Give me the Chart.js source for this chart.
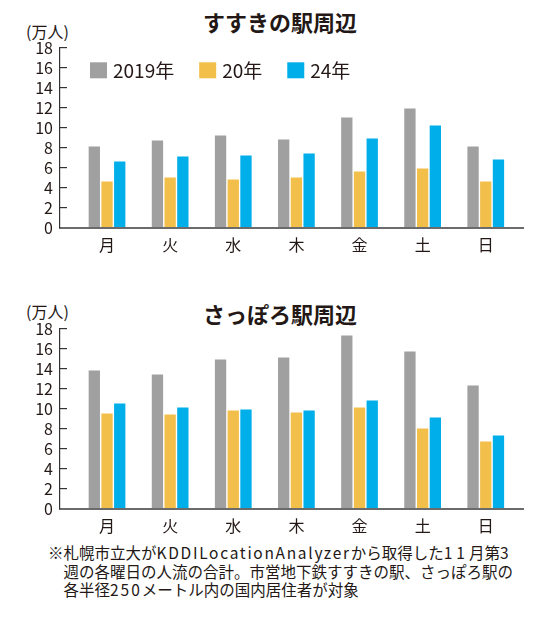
<!DOCTYPE html>
<html lang="ja">
<head>
<meta charset="utf-8">
<script src="https://cdn.jsdelivr.net/npm/chart.js@4.4.1/dist/chart.umd.min.js"></script>
<style>
  html, body { margin:0; padding:0; background:#fff; }
  body { width:550px; height:620px; position:relative; overflow:hidden;
         font-family:"Noto Sans CJK JP","Noto Sans",sans-serif; color:#231815; }
  canvas { position:absolute; left:0; }
  .title { position:absolute; left:280px; transform:translateX(-50%); font-size:22px;
           font-weight:700; white-space:nowrap; line-height:24px; }
  .unit { position:absolute; left:26px; font-size:16px; line-height:20px; white-space:nowrap; }
  .note { position:absolute; left:48px; top:543px; font-size:15.5px; line-height:18.5px;
          padding-left:15.5px; text-indent:-15.5px; white-space:nowrap; }
  .wide { letter-spacing:1.7px; }
  .num { letter-spacing:4px; }
  .num3 { letter-spacing:2px; }
</style>
</head>
<body>
<div class="title" style="top:9px">すすきの駅周辺</div>
<div class="unit" style="top:21px">(万人)</div>
<canvas id="c1" width="550" height="260" style="top:0px;width:550px;height:260px"></canvas>
<div class="title" style="top:301px">さっぽろ駅周辺</div>
<div class="unit" style="top:301px">(万人)</div>
<canvas id="c2" width="550" height="260" style="top:281px;width:550px;height:260px"></canvas>
<div class="note">※札幌市立大が<span class="wide">KDDILocationAnalyzer</span>から取得した<span class="num">11</span>月第<span class="num">3</span><br>週の各曜日の人流の合計。市営地下鉄すすきの駅、さっぽろ駅の<br>各半径<span class="num3">250</span>メートル内の国内居住者が対象</div>
<script>
const days = ['月','火','水','木','金','土','日'];
const seriesLabels = ['2019年','20年','24年'];
const seriesColors = ['#a0a0a0','#f3bf4b','#00aeea'];
const yTicks = [0,2,4,6,8,10,12,14,16,18];

const susukino2019 = [8.1, 8.7, 9.2, 8.8, 11.0, 11.9, 8.1];
const susukino2020 = [4.6, 5.0, 4.8, 5.0, 5.6, 5.9, 4.6];
const susukino2024 = [6.6, 7.1, 7.2, 7.4, 8.9, 10.2, 6.8];

const sapporo2019 = [13.8, 13.4, 14.9, 15.1, 17.3, 15.7, 12.3];
const sapporo2020 = [9.5, 9.4, 9.8, 9.6, 10.1, 8.0, 6.7];
const sapporo2024 = [10.5, 10.1, 9.9, 9.8, 10.8, 9.1, 7.3];

const FONT = '"Noto Sans CJK JP","Noto Sans",sans-serif';
const TEXT = '#231815';

const insideLegend = {
  id: 'insideLegend',
  afterDraw(chart, args, opts) {
    if (!opts.show) return;
    const ctx = chart.ctx;
    ctx.save();
    ctx.font = '19px ' + FONT;
    ctx.textBaseline = 'middle';
    ctx.textAlign = 'left';
    let x = opts.x;
    chart.data.datasets.forEach(ds => {
      ctx.fillStyle = ds.backgroundColor;
      ctx.fillRect(x, opts.y, 17, 16);
      ctx.fillStyle = TEXT;
      ctx.fillText(ds.label, x + 23, opts.y + 8.5);
      x += 23 + ctx.measureText(ds.label).width + 25;
    });
    ctx.restore();
  }
};

function makeChart(id, series, showLegend) {
  const datasets = series.map((vals, k) => ({
    label: seriesLabels[k],
    backgroundColor: seriesColors[k],
    borderWidth: 0,
    data: vals.map((v, i) => ({ x: i, y: v }))
  }));
  return new Chart(document.getElementById(id), {
    type: 'bar',
    data: { datasets },
    plugins: [insideLegend],
    options: {
      responsive: false,
      animation: false,
      layout: { padding: { top: 47.5, right: 27, left: 0, bottom: 0 } },
      datasets: { bar: { categoryPercentage: 0.604, barPercentage: 0.89 } },
      plugins: {
        legend: { display: false },
        tooltip: { enabled: false },
        insideLegend: { show: showLegend, x: 90, y: 62.3 }
      },
      scales: {
        x: {
          type: 'linear',
          offset: false,
          min: -0.745,
          max: 6.59,
          afterBuildTicks: s => { s.ticks = days.map((d, i) => ({ value: i })); },
          afterFit: s => { s.height = 32.5; },
          grid: { display: false, drawTicks: false, offset: false },
          border: { display: true, color: '#6b6b6b', width: 2 },
          ticks: {
            autoSkip: false,
            maxRotation: 0,
            padding: 8,
            color: TEXT,
            font: { family: FONT, size: 16 },
            callback: v => days[v] !== undefined ? days[v] : ''
          }
        },
        y: {
          min: 0,
          max: 18,
          afterBuildTicks: s => { s.ticks = yTicks.map(v => ({ value: v })); },
          afterFit: s => { s.width = 60; },
          grid: { drawOnChartArea: false, drawTicks: true, tickLength: -7, color: '#333', lineWidth: 1.2 },
          border: { display: true, color: '#333', width: 1.2 },
          ticks: {
            autoSkip: false,
            padding: 14,
            color: TEXT,
            font: { family: FONT, size: 16 }
          }
        }
      }
    }
  });
}

makeChart('c1', [susukino2019, susukino2020, susukino2024], true);
makeChart('c2', [sapporo2019, sapporo2020, sapporo2024], false);
</script>
</body>
</html>
